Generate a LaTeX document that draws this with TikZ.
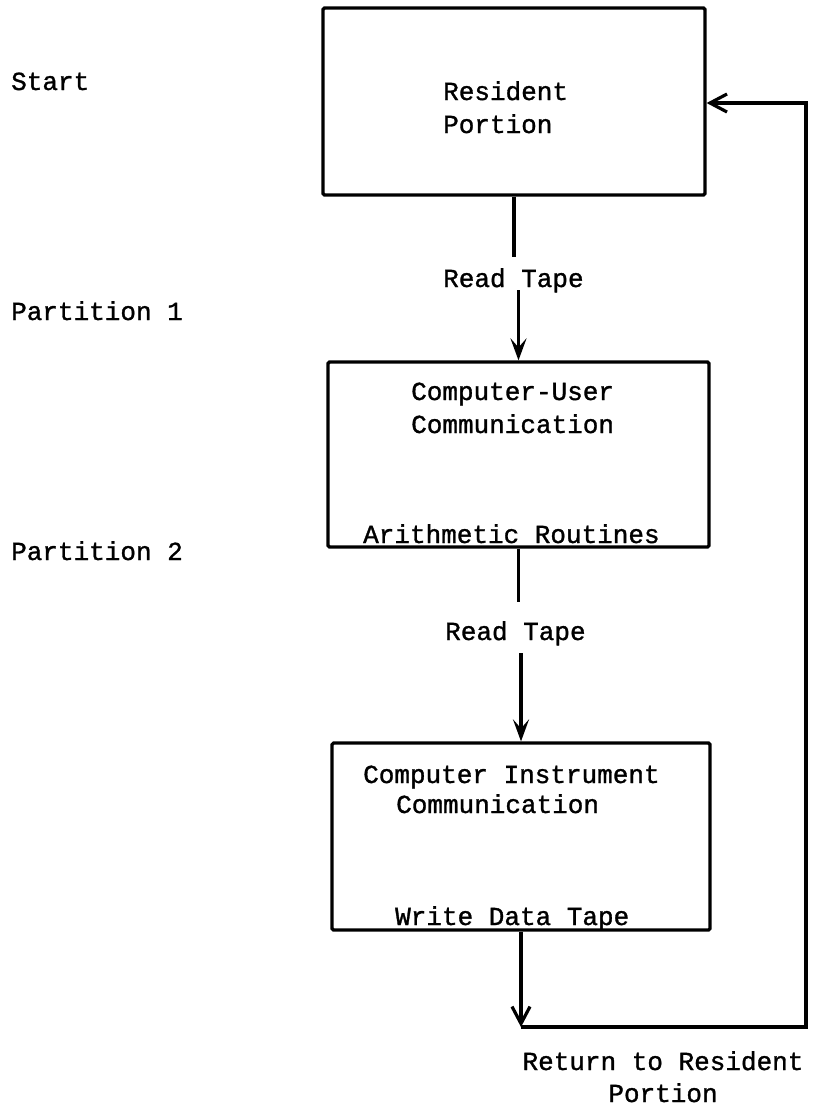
\documentclass[tikz,border=0pt]{standalone}
\usepackage{fontspec}
\setmainfont{Liberation Mono}
\newfontfamily\twfont{Liberation Mono}[FakeBold=1.2]
\usetikzlibrary{arrows.meta}
\begin{document}
\begin{tikzpicture}[x=1pt,y=-1pt,
  every node/.style={font=\twfont\fontsize{26}{32}\selectfont},
  txt/.style={anchor=base west,inner sep=0pt},
  box/.style={draw,line width=3.2pt,rounded corners=1.5pt,inner sep=0pt},
  conn/.style={line width=3.2pt},
  arr/.style={conn,-{Straight Barb[length=17pt,width=18pt,line width=3.2pt]}},
  farr/.style={conn,-{Stealth[length=22pt,width=16pt,inset=9pt]}}]
\useasboundingbox (0,0) rectangle (812,1109);
% boxes
\node[box,minimum width=382pt,minimum height=187pt] (b1) at (514,101.5) {};
\node[box,minimum width=381pt,minimum height=185pt] (b2) at (518.5,454.5) {};
\node[box,minimum width=378pt,minimum height=187pt] (b3) at (521,836.5) {};
% side labels
\node[txt] (start) at (11,90) {Start};
\node[txt] (p1) at (11,320) {Partition 1};
\node[txt] (p2) at (11,560) {Partition 2};
% box texts
\node[txt] (t1a) at (443,100) {Resident};
\node[txt] (t1b) at (443,133) {Portion};
\node[txt] (t2a) at (411,400) {Computer-User};
\node[txt] (t2b) at (411,433) {Communication};
\node[txt] (t2c) at (363,543) {Arithmetic Routines};
\node[txt] (t3a) at (363,783) {Computer Instrument};
\node[txt] (t3b) at (396,813) {Communication};
\node[txt] (t3c) at (395,925) {Write Data Tape};
% connector labels
\node[txt] (rt1) at (443,287) {Read Tape};
\node[txt] (rt2) at (445,640) {Read Tape};
\node[align=center,inner sep=0pt,anchor=base] (ret) at (663,1102) {Return to Resident\\Portion};
% connector coordinates
\coordinate (g1a) at (b1.south |- 0,257);
\coordinate (g1b) at (b2.north |- 0,290);
\coordinate (g2a) at (b2.south |- 0,602);
\coordinate (g2b) at (b3.north |- 0,653);
\coordinate (c1) at (b3.south |- 0,1027);
\coordinate (c2) at (806,1027);
\coordinate (c3) at (806,103);
% connectors
\draw[conn] (b1.south) -- (g1a);
\draw[farr] (g1b) -- (b2.north);
\draw[conn] (b2.south) -- (g2a);
\draw[farr] (g2b) -- (b3.north);
\draw[arr] (b3.south) -- (c1);
\draw[arr] (c1) -- (c2) -- (c3) -- (c3 -| b1.east);
\end{tikzpicture}
\end{document}
